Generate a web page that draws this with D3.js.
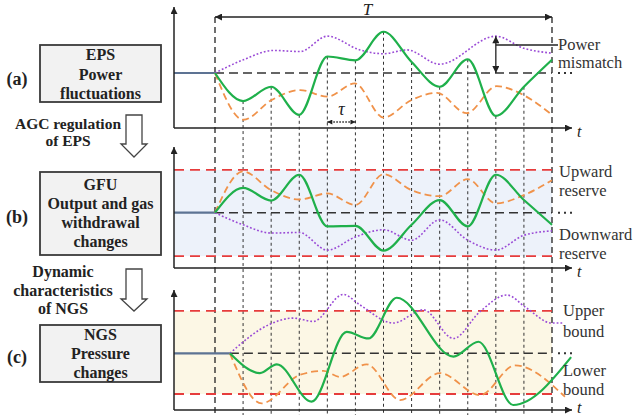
<!DOCTYPE html>
<html>
<head>
<meta charset="utf-8">
<script src="https://cdn.jsdelivr.net/npm/d3@7"></script>
<style>
  html, body { margin: 0; padding: 0; background: #fff; }
  svg { display: block; font-family: "Liberation Serif", "Times New Roman", serif; }
</style>
</head>
<body>
<svg id="chart" width="635" height="415"></svg>
<script>
// sampling instants (vertical guide lines)
const gridT = [0, 1, 2, 3, 4, 5, 6, 7, 8, 9, 10, 11, 12];

// (a) EPS power fluctuations
const greenA = [0, -0.51, -0.25, -0.76, 0.3, 0.23, 0.75, 0.2, -0.25, 0.25, -0.78, -0.25, 0.24];
const orangeAT = [0, 1.01, 2.02, 3.03, 4.0, 4.98, 6.0, 7.0, 7.9, 8.96, 10.03, 10.98, 12];
const orangeA = [0, -0.85, -0.49, -0.31, -0.43, -0.19, -0.81, -0.49, -0.36, -0.73, -0.24, -0.4, -0.76];
const purpleAT = [0, 1.01, 2.08, 3.03, 4.0, 5.16, 6.0, 6.83, 8.0, 10.0, 11.0, 12];
const purpleA = [0, 0.24, 0.41, 0.39, 0.67, 0.42, 0.35, 0.42, 0.16, 0.67, 0.45, 0.36];

// (b) GFU output / gas withdrawal
const greenB = [0, 0.45, 0.22, 0.69, -0.25, -0.24, -0.69, -0.22, 0.23, -0.25, 0.69, 0.23, -0.22];
const orangeB = [0, 0.75, 0.41, 0.24, 0.35, 0.14, 0.7, 0.41, 0.3, 0.61, 0.17, 0.32, 0.59];
const purpleB = [0, -0.22, -0.37, -0.36, -0.68, -0.44, -0.31, -0.5, -0.13, -0.5, -0.68, -0.41, -0.33];
const reserveB = [0.78, -0.79];

// (c) NGS pressure (delayed response)
const greenCT = [0.53, 1.6, 2.2, 3.44, 4.69, 5.46, 6.47, 8.49, 9.38, 10.62, 12.68];
const greenC = [0, -0.36, -0.2, -0.88, 0.39, 0.27, 1.01, -0.06, 0.21, -0.94, -0.07];
const orangeCT = [0.53, 1.66, 3.03, 3.86, 4.45, 5.4, 6.59, 8.01, 9.44, 10.68, 12.46];
const orangeC = [0, -0.91, -0.39, -0.32, -0.43, -0.2, -0.85, -0.36, -0.76, -0.22, -0.79];
const purpleCT = [0.53, 1.96, 2.79, 3.5, 4.57, 5.16, 6.35, 7.42, 8.49, 9.44, 10.39, 11.1, 11.99, 12.39];
const purpleC = [0, 0.53, 0.64, 0.58, 1.07, 0.88, 0.55, 0.79, 0.27, 0.76, 1.06, 0.82, 0.55, 0.55];
const boundC = [0.77, -0.74];

const mismatchT = 10; // where the power mismatch is marked
const tauT = [4, 5];

const green = '#1fb04b', orange = '#f0924a', purple = '#9a4bd6', red = '#e63c3c';
const ink = '#222';

const svg = d3.select('#chart');
const zip = (ts, vs) => ts.map((t, i) => [t, vs[i]]);

const x = d3.scaleLinear().domain([0, 12]).range([215, 552]);
const axisX0 = 174, axisX1 = 572;

const panels = [
  { base: 73, axisY: 128, top: 7, start: 0,
    green: zip(gridT, greenA), orange: zip(orangeAT, orangeA), purple: zip(purpleAT, purpleA) },
  { base: 212.7, axisY: 268, top: 147, start: 0, band: reserveB, fill: '#edf2fa',
    green: zip(gridT, greenB), orange: zip(gridT, orangeB), purple: zip(gridT, purpleB) },
  { base: 353.3, axisY: 410, top: 290, start: 0.53, band: boundC, fill: '#fcf7e5',
    green: zip(greenCT, greenC), orange: zip(orangeCT, orangeC), purple: zip(purpleCT, purpleC) }
];
panels.forEach(p => {
  p.y = d3.scaleLinear().domain([-1, 1]).range([p.base + 55, p.base - 55]);
});

// arrow markers
const defs = svg.append('defs');
defs.append('marker')
  .attr('id', 'head').attr('viewBox', '0 0 10 10')
  .attr('refX', 10).attr('refY', 5)
  .attr('markerWidth', 9).attr('markerHeight', 7)
  .attr('markerUnits', 'userSpaceOnUse')
  .attr('orient', 'auto-start-reverse')
  .append('path').attr('d', 'M0,0L10,5L0,10z').attr('fill', ink);
defs.append('marker')
  .attr('id', 'small').attr('viewBox', '0 0 10 10')
  .attr('refX', 10).attr('refY', 5)
  .attr('markerWidth', 6).attr('markerHeight', 5)
  .attr('markerUnits', 'userSpaceOnUse')
  .attr('orient', 'auto-start-reverse')
  .append('path').attr('d', 'M0,0L10,5L0,10z').attr('fill', ink);

// shaded bands
panels.filter(p => p.band).forEach(p => {
  svg.append('rect')
    .attr('x', axisX0).attr('width', x(12) - axisX0)
    .attr('y', p.y(p.band[0])).attr('height', p.y(p.band[1]) - p.y(p.band[0]))
    .attr('fill', p.fill);
});

// vertical guide lines
const yA = panels[0].y;
const isEdge = i => i === 0 || i === gridT.length - 1;
svg.append('g').selectAll('line')
  .data(gridT)
  .join('line')
  .attr('x1', d => x(d)).attr('x2', d => x(d))
  .attr('y1', (d, i) => isEdge(i) ? 17 : yA(greenA[i]))
  .attr('y2', 415)
  .attr('stroke', (d, i) => isEdge(i) ? ink : '#333')
  .attr('stroke-width', (d, i) => isEdge(i) ? 1.3 : 1)
  .attr('stroke-dasharray', (d, i) => isEdge(i) ? '6,4' : '3,3');

panels.forEach(p => {
  const g = svg.append('g');

  // reserve / bound lines
  if (p.band) {
    p.band.forEach(v => {
      g.append('line')
        .attr('x1', axisX0).attr('x2', x(12))
        .attr('y1', p.y(v)).attr('y2', p.y(v))
        .attr('stroke', red).attr('stroke-width', 1.8)
        .attr('stroke-dasharray', '10,6');
    });
  }

  // steady state before disturbance
  g.append('line')
    .attr('x1', axisX0).attr('x2', x(p.start))
    .attr('y1', p.y(0)).attr('y2', p.y(0))
    .attr('stroke', '#5d7393').attr('stroke-width', 2.2);
  g.append('line')
    .attr('x1', x(p.start)).attr('x2', x(12))
    .attr('y1', p.y(0)).attr('y2', p.y(0))
    .attr('stroke', '#333').attr('stroke-width', 1.6)
    .attr('stroke-dasharray', '9,5');
  g.append('line')
    .attr('x1', x(12) + 6).attr('x2', x(12) + 24)
    .attr('y1', p.y(0)).attr('y2', p.y(0))
    .attr('stroke', '#333').attr('stroke-width', 2)
    .attr('stroke-dasharray', '2,4');

  const line = d3.line()
    .x(d => x(d[0])).y(d => p.y(d[1]))
    .curve(d3.curveMonotoneX);

  g.append('path').attr('d', line(p.orange))
    .attr('fill', 'none').attr('stroke', orange).attr('stroke-width', 1.8)
    .attr('stroke-dasharray', '7,4');
  g.append('path').attr('d', line(p.purple))
    .attr('fill', 'none').attr('stroke', purple).attr('stroke-width', 1.6)
    .attr('stroke-dasharray', '1.8,2');
  g.append('path').attr('d', line(p.green))
    .attr('fill', 'none').attr('stroke', green).attr('stroke-width', 2.2);

  // axes
  g.append('line')
    .attr('x1', axisX0).attr('x2', axisX0)
    .attr('y1', p.axisY).attr('y2', p.top)
    .attr('stroke', ink).attr('stroke-width', 1.5)
    .attr('marker-end', 'url(#head)');
  g.append('line')
    .attr('x1', axisX0).attr('x2', axisX1)
    .attr('y1', p.axisY).attr('y2', p.axisY)
    .attr('stroke', ink).attr('stroke-width', 1.5)
    .attr('marker-end', 'url(#head)');
  g.append('text')
    .attr('x', axisX1 + 5).attr('y', Math.min(p.axisY + 9, 413))
    .attr('font-size', 16).attr('font-style', 'italic').attr('fill', ink)
    .text('t');
});

// T span arrow
svg.append('line')
  .attr('x1', x(0)).attr('x2', x(12)).attr('y1', 17).attr('y2', 17)
  .attr('stroke', ink).attr('stroke-width', 1.3)
  .attr('marker-start', 'url(#head)').attr('marker-end', 'url(#head)');
svg.append('text')
  .attr('x', x(6) - 16).attr('y', 15).attr('text-anchor', 'middle')
  .attr('font-size', 17).attr('font-style', 'italic').attr('fill', ink)
  .text('T');

// tau arrow
svg.append('line')
  .attr('x1', x(tauT[0])).attr('x2', x(tauT[1])).attr('y1', 122).attr('y2', 122)
  .attr('stroke', ink).attr('stroke-width', 1.3).attr('stroke-dasharray', '1.5,1.5')
  .attr('marker-start', 'url(#small)').attr('marker-end', 'url(#small)');
svg.append('text')
  .attr('x', (x(tauT[0]) + x(tauT[1])) / 2).attr('y', 115).attr('text-anchor', 'middle')
  .attr('font-size', 18).attr('font-style', 'italic').attr('fill', ink)
  .text('τ');

// power mismatch marker
const mi = purpleAT.indexOf(mismatchT);
const mx = x(mismatchT);
svg.append('line')
  .attr('x1', mx).attr('x2', mx)
  .attr('y1', yA(purpleA[mi])).attr('y2', yA(0))
  .attr('stroke', ink).attr('stroke-width', 1.3)
  .attr('marker-start', 'url(#head)').attr('marker-end', 'url(#head)');
svg.append('line')
  .attr('x1', mx).attr('x2', 558).attr('y1', 45).attr('y2', 45)
  .attr('stroke', ink).attr('stroke-width', 1.3);

// right-hand labels
const rightLabels = [
  ['Power', 558, 50], ['mismatch', 558, 68],
  ['Upward', 559, 177], ['reserve', 559, 196],
  ['Downward', 559, 240], ['reserve', 559, 259],
  ['Upper', 563, 316], ['bound', 563, 337],
  ['Lower', 563, 376], ['bound', 563, 395]
];
svg.append('g').selectAll('text')
  .data(rightLabels)
  .join('text')
  .attr('x', d => d[1]).attr('y', d => d[2])
  .attr('font-size', 16.5).attr('fill', '#333')
  .text(d => d[0]);

// left flow boxes
const boxes = [
  { y: 45, h: 57, lines: ['EPS', 'Power', 'fluctuations'], ys: [60, 80, 99], tag: '(a)', tagY: 85 },
  { y: 172, h: 83, lines: ['GFU', 'Output and gas', 'withdrawal', 'changes'], ys: [190, 209, 228, 247], tag: '(b)', tagY: 223 },
  { y: 325, h: 57, lines: ['NGS', 'Pressure', 'changes'], ys: [340, 359, 378], tag: '(c)', tagY: 363 }
];
boxes.forEach(b => {
  svg.append('rect')
    .attr('x', 40).attr('y', b.y).attr('width', 121).attr('height', b.h)
    .attr('fill', '#f2f2f2').attr('stroke', '#3a3a3a').attr('stroke-width', 1.8);
  b.lines.forEach((t, i) => {
    svg.append('text')
      .attr('x', 100.5).attr('y', b.ys[i]).attr('text-anchor', 'middle')
      .attr('font-size', 16).attr('font-weight', 'bold').attr('fill', ink)
      .text(t);
  });
  svg.append('text')
    .attr('x', 17).attr('y', b.tagY).attr('text-anchor', 'middle')
    .attr('font-size', 18).attr('font-weight', 'bold').attr('fill', ink)
    .text(b.tag);
});

// hollow arrows between boxes
const flows = [
  { top: 115, neck: 144, tip: 157, lines: ['AGC regulation', 'of EPS'], cx: 68, ys: [129, 146] },
  { top: 269, neck: 299, tip: 311, lines: ['Dynamic', 'characteristics', 'of NGS'], cx: 63, ys: [277, 296, 314] }
];
flows.forEach(f => {
  const c = 134, s = 8, h = 13;
  svg.append('path')
    .attr('d', `M${c - s},${f.top}H${c + s}V${f.neck}H${c + h}L${c},${f.tip}L${c - h},${f.neck}H${c - s}Z`)
    .attr('fill', '#fff').attr('stroke', '#444').attr('stroke-width', 1.3);
  f.lines.forEach((t, i) => {
    svg.append('text')
      .attr('x', f.cx).attr('y', f.ys[i]).attr('text-anchor', 'middle')
      .attr('font-size', f.lines.length === 2 ? 15.5 : 16).attr('font-weight', 'bold').attr('fill', ink)
      .text(t);
  });
});
</script>
</body>
</html>
